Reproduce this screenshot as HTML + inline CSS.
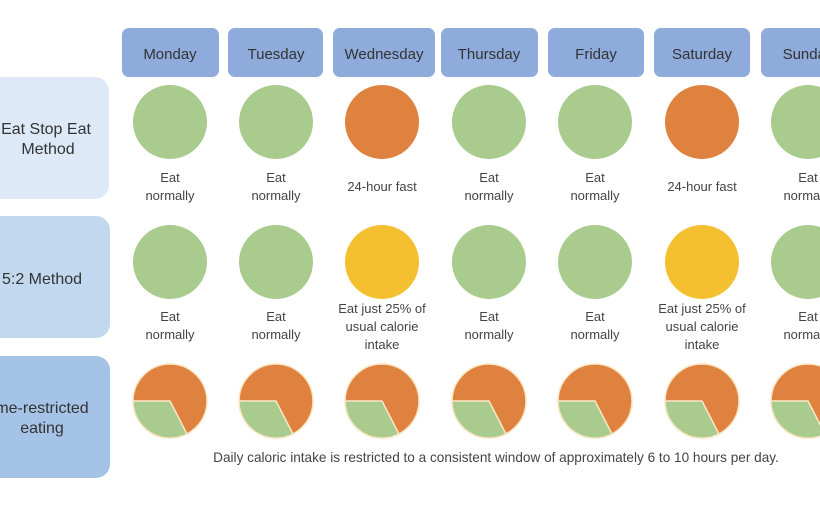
<!DOCTYPE html>
<html><head><style>
body{margin:0;width:820px;height:510px;background:#fff;overflow:hidden;font-family:"Liberation Sans",sans-serif;}
</style></head><body>
<svg width="820" height="510" xmlns="http://www.w3.org/2000/svg" font-family="Liberation Sans, sans-serif">
<g fill="#8eabdc">
<rect x="122" y="28" width="97" height="49" rx="7"/>
<rect x="228" y="28" width="95" height="49" rx="7"/>
<rect x="333" y="28" width="102" height="49" rx="7"/>
<rect x="441" y="28" width="97" height="49" rx="7"/>
<rect x="548" y="28" width="96" height="49" rx="7"/>
<rect x="654" y="28" width="96" height="49" rx="7"/>
<rect x="761" y="28" width="80" height="49" rx="7"/>
</g>
<g font-size="15" fill="#333" text-anchor="middle">
<text x="170" y="59">Monday</text><text x="276" y="59">Tuesday</text><text x="384" y="59">Wednesday</text>
<text x="489" y="59">Thursday</text><text x="596" y="59">Friday</text><text x="702" y="59">Saturday</text><text x="808" y="59">Sunday</text>
</g>
<rect x="-20" y="77" width="129" height="122" rx="14" fill="#dde9f6"/>
<rect x="-20" y="216" width="130" height="122" rx="14" fill="#c2d8ef"/>
<rect x="-20" y="356" width="130" height="122" rx="14" fill="#a5c3e6"/>
<g font-size="16" fill="#333" text-anchor="middle">
<text x="46" y="134">Eat Stop Eat</text><text x="48" y="154">Method</text>
<text x="42" y="284">5:2 Method</text>
<text x="42" y="413">me-restricted</text><text x="42" y="433">eating</text>
</g>
<g fill="#a9cc8e">
<circle cx="170" cy="122" r="37"/><circle cx="276" cy="122" r="37"/><circle cx="489" cy="122" r="37"/><circle cx="595" cy="122" r="37"/><circle cx="808" cy="122" r="37"/>
<circle cx="170" cy="262" r="37"/><circle cx="276" cy="262" r="37"/><circle cx="489" cy="262" r="37"/><circle cx="595" cy="262" r="37"/><circle cx="808" cy="262" r="37"/>
</g>
<circle cx="382" cy="122" r="37" fill="#e0823f"/><circle cx="702" cy="122" r="37" fill="#e0823f"/>
<circle cx="382" cy="262" r="37" fill="#f5c02f"/><circle cx="702" cy="262" r="37" fill="#f5c02f"/>
<g id="p">
<circle cx="170" cy="401" r="37" fill="#e0823f" stroke="#fbe7c6" stroke-width="1.5"/>
<path d="M170 401 L133 401 A37 37 0 0 0 187 434 Z" fill="#a9cc8e" stroke="#fbe7c6" stroke-width="1.5"/>
</g>
<use href="#p" x="106"/><use href="#p" x="212"/><use href="#p" x="319"/><use href="#p" x="425"/><use href="#p" x="532"/><use href="#p" x="638"/>
<g font-size="13" fill="#444" text-anchor="middle">
<text x="170" y="182">Eat</text><text x="170" y="200">normally</text>
<text x="276" y="182">Eat</text><text x="276" y="200">normally</text>
<text x="382" y="191">24-hour fast</text>
<text x="489" y="182">Eat</text><text x="489" y="200">normally</text>
<text x="595" y="182">Eat</text><text x="595" y="200">normally</text>
<text x="702" y="191">24-hour fast</text>
<text x="808" y="182">Eat</text><text x="808" y="200">normally</text>
<text x="170" y="321">Eat</text><text x="170" y="339">normally</text>
<text x="276" y="321">Eat</text><text x="276" y="339">normally</text>
<text x="382" y="313">Eat just 25% of</text><text x="382" y="331">usual calorie</text><text x="382" y="349">intake</text>
<text x="489" y="321">Eat</text><text x="489" y="339">normally</text>
<text x="595" y="321">Eat</text><text x="595" y="339">normally</text>
<text x="702" y="313">Eat just 25% of</text><text x="702" y="331">usual calorie</text><text x="702" y="349">intake</text>
<text x="808" y="321">Eat</text><text x="808" y="339">normally</text>
<text x="496" y="462" font-size="13.6">Daily caloric intake is restricted to a consistent window of approximately 6 to 10 hours per day.</text>
</g>
</svg>
</body></html>
